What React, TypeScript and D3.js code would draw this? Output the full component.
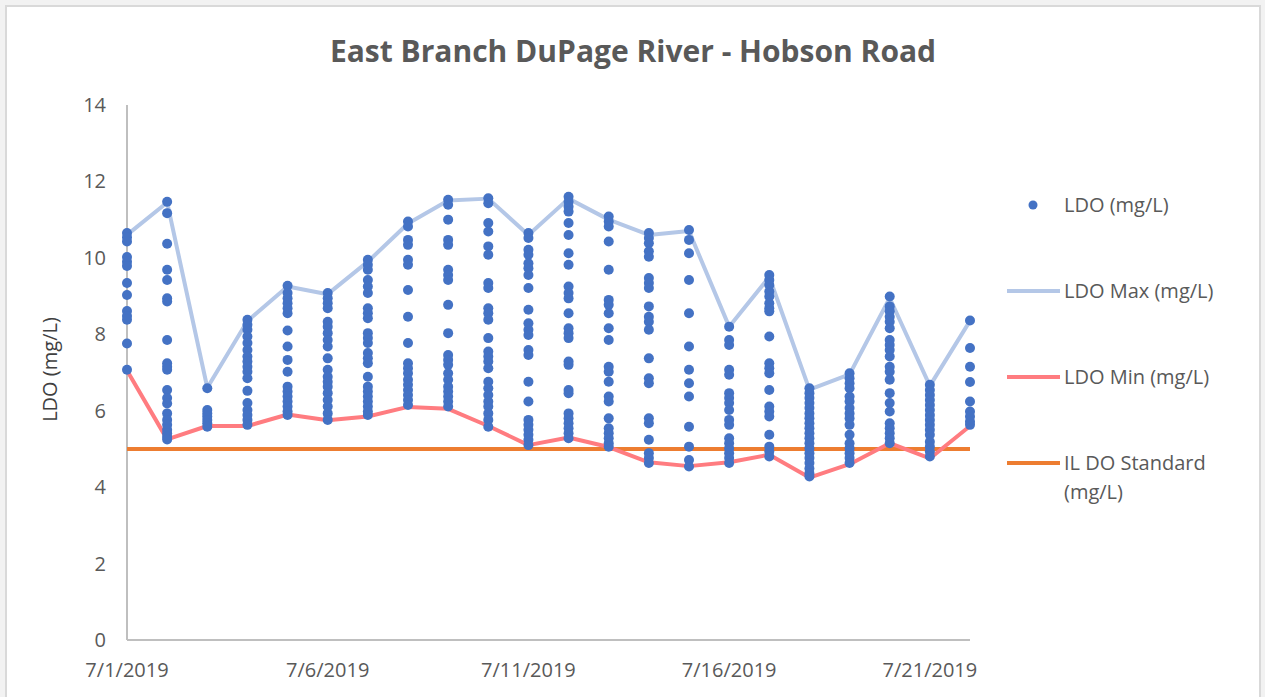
import React from 'react';
import * as d3 from 'd3';

// one reading column per day, 7/1/2019 .. 7/22/2019
const dayLabels = [
  '2019-07-01', '2019-07-02', '2019-07-03', '2019-07-04', '2019-07-05', '2019-07-06',
  '2019-07-07', '2019-07-08', '2019-07-09', '2019-07-10', '2019-07-11', '2019-07-12',
  '2019-07-13', '2019-07-14', '2019-07-15', '2019-07-16', '2019-07-17', '2019-07-18',
  '2019-07-19', '2019-07-20', '2019-07-21', '2019-07-22',
];

const ldoReadings: number[][] = [
  [10.65, 10.54, 10.43, 10.02, 9.9, 9.79, 9.34, 9.03, 8.61, 8.48, 8.38, 7.76, 7.07],
  [11.47, 11.17, 10.37, 9.69, 9.42, 8.94, 8.86, 7.85, 7.24, 7.15, 7.07, 6.54, 6.33, 6.19, 5.93, 5.76, 5.63, 5.5, 5.41, 5.32, 5.25],
  [6.59, 6.02, 5.93, 5.85, 5.76, 5.67, 5.58],
  [8.38, 8.25, 8.12, 7.94, 7.77, 7.59, 7.42, 7.29, 7.15, 7.02, 6.85, 6.52, 6.2, 6.02, 5.89, 5.76, 5.63],
  [9.27, 9.08, 8.94, 8.81, 8.68, 8.55, 8.1, 7.68, 7.33, 7.02, 6.63, 6.5, 6.37, 6.24, 6.11, 5.98, 5.89],
  [9.08, 8.94, 8.81, 8.68, 8.33, 8.2, 8.03, 7.85, 7.68, 7.37, 7.07, 6.89, 6.76, 6.63, 6.46, 6.28, 6.11, 5.93, 5.76],
  [9.95, 9.82, 9.69, 9.42, 9.25, 9.08, 8.68, 8.55, 8.42, 8.03, 7.9, 7.77, 7.51, 7.37, 7.24, 6.89, 6.63, 6.5, 6.37, 6.24, 6.11, 5.98, 5.89],
  [10.95, 10.82, 10.47, 10.34, 9.95, 9.82, 9.16, 8.46, 7.77, 7.24, 7.11, 6.98, 6.81, 6.68, 6.54, 6.41, 6.28, 6.15],
  [11.52, 11.39, 11.0, 10.47, 10.34, 9.69, 9.55, 9.42, 8.77, 8.03, 7.46, 7.33, 7.2, 6.98, 6.81, 6.63, 6.5, 6.37, 6.24, 6.11],
  [11.56, 11.43, 10.91, 10.69, 10.3, 10.08, 9.34, 9.21, 8.68, 8.55, 8.38, 7.9, 7.55, 7.42, 7.29, 7.11, 6.76, 6.59, 6.41, 6.24, 6.11, 5.93, 5.76, 5.58],
  [10.65, 10.52, 10.21, 10.08, 9.86, 9.73, 9.55, 9.21, 8.64, 8.29, 8.12, 7.98, 7.59, 7.46, 6.76, 6.24, 5.76, 5.63, 5.5, 5.37, 5.24, 5.1],
  [11.6, 11.47, 11.34, 11.21, 10.91, 10.6, 10.12, 9.82, 9.25, 9.08, 8.94, 8.55, 8.16, 8.03, 7.9, 7.29, 7.2, 6.54, 6.46, 5.93, 5.8, 5.67, 5.54, 5.41, 5.28],
  [11.08, 10.95, 10.82, 10.43, 9.69, 8.9, 8.77, 8.55, 8.16, 7.85, 7.15, 7.02, 6.76, 6.37, 6.24, 5.8, 5.54, 5.41, 5.28, 5.15, 5.06],
  [10.65, 10.52, 10.38, 10.17, 10.03, 9.47, 9.34, 9.21, 8.73, 8.46, 8.33, 8.12, 7.37, 6.85, 6.72, 5.8, 5.67, 5.24, 4.89, 4.76, 4.63],
  [10.73, 10.47, 10.12, 9.42, 8.55, 7.68, 7.07, 6.72, 6.37, 5.58, 5.06, 4.71, 4.54],
  [8.2, 7.85, 7.72, 7.07, 6.94, 6.46, 6.33, 6.2, 6.02, 5.76, 5.63, 5.28, 5.15, 5.02, 4.89, 4.76, 4.63],
  [9.55, 9.42, 9.29, 9.12, 8.99, 8.81, 8.68, 8.6, 7.94, 7.24, 7.11, 6.98, 6.54, 6.11, 5.98, 5.85, 5.37, 5.06, 4.93, 4.8],
  [6.59, 6.46, 6.33, 6.2, 6.07, 5.93, 5.8, 5.67, 5.54, 5.41, 5.28, 5.15, 5.02, 4.89, 4.76, 4.63, 4.49, 4.36, 4.28],
  [6.98, 6.85, 6.72, 6.59, 6.37, 6.24, 6.07, 5.93, 5.8, 5.63, 5.37, 5.15, 5.02, 4.89, 4.76, 4.63],
  [8.99, 8.73, 8.6, 8.46, 8.33, 8.16, 7.85, 7.72, 7.59, 7.42, 7.15, 7.02, 6.81, 6.46, 6.2, 5.98, 5.67, 5.54, 5.41, 5.28, 5.15],
  [6.68, 6.54, 6.41, 6.28, 6.15, 6.02, 5.89, 5.76, 5.63, 5.5, 5.37, 5.19, 5.06, 4.93, 4.8],
  [8.36, 7.64, 7.15, 6.75, 6.24, 5.98, 5.85, 5.72, 5.63],
];

const ldoMax = [10.6, 11.45, 6.6, 8.35, 9.25, 9.05, 9.9, 10.9, 11.5, 11.55, 10.6, 11.55, 11.0, 10.6, 10.7, 8.2, 9.5, 6.55, 6.95, 8.95, 6.65, 8.35];
const ldoMin = [7.05, 5.25, 5.6, 5.6, 5.9, 5.75, 5.85, 6.1, 6.05, 5.6, 5.1, 5.3, 5.05, 4.65, 4.55, 4.65, 4.85, 4.25, 4.6, 5.15, 4.75, 5.6];
const standard = 5;

const yTicks = [0, 2, 4, 6, 8, 10, 12, 14];
const xTickLabels = ['2019-07-01', '2019-07-06', '2019-07-11', '2019-07-16', '2019-07-21'];

const legendItems = [
  { label: ['LDO (mg/L)'], kind: 'dot', color: '#4472C4' },
  { label: ['LDO Max (mg/L)'], kind: 'line', color: '#B4C7E7' },
  { label: ['LDO Min (mg/L)'], kind: 'line', color: '#FF7C80' },
  { label: ['IL DO Standard', '(mg/L)'], kind: 'line', color: '#ED7D31' },
];

const parseDay = d3.timeParse('%Y-%m-%d');
const fmt = d3.timeFormat('%-m/%-d/%Y');

export default function App() {
  const width = 1265;
  const height = 697;
  const font = '"Open Sans", "Noto Sans", sans-serif';
  const textColor = '#595959';

  const dates = dayLabels.map(d => parseDay(d) as Date);

  const x = d3.scaleTime()
    .domain([dates[0], dates[dates.length - 1]])
    .range([127, 970]);
  const y = d3.scaleLinear().domain([0, 14]).range([640, 105]);

  const dayLine = d3.line<number>()
    .x((_, i) => x(dates[i]))
    .y(d => y(d));

  const legendY = [205, 291, 377, 463];

  return (
    <svg width={width} height={height} style={{ position: 'absolute', left: 0, top: 0, display: 'block', background: '#fff' }}>
      <rect x={0} y={0} width={width} height={height} fill="#f2f2f2" />
      <rect x={6} y={6} width={1254} height={720} fill="#fff" stroke="#d9d9d9" strokeWidth={2} />

      <text x={633} y={62} textAnchor="middle" fontFamily={font} fontSize={30} fontWeight={700} fill={textColor}>
        East Branch DuPage River - Hobson Road
      </text>

      {/* y axis */}
      <line x1={x(dates[0])} x2={x(dates[0])} y1={y(14)} y2={y(0)} stroke="#bfbfbf" strokeWidth={2} />
      {yTicks.map(t => (
        <text key={t} x={106} y={y(t)} dy="0.35em" textAnchor="end" fontFamily={font} fontSize={20} fill={textColor}>{t}</text>
      ))}
      <text transform={`translate(50,${y(7) - 3}) rotate(-90)`} textAnchor="middle" dy="0.35em" fontFamily={font} fontSize={20} fill="#404040">
        LDO (mg/L)
      </text>

      {/* x axis */}
      <line x1={x(dates[0])} x2={x(dates[dates.length - 1])} y1={y(0)} y2={y(0)} stroke="#bfbfbf" strokeWidth={2} />
      {xTickLabels.map(s => {
        const d = parseDay(s) as Date;
        return (
          <text key={s} x={x(d)} y={670} dy="0.35em" textAnchor="middle" fontFamily={font} fontSize={20} fill={textColor}>{fmt(d)}</text>
        );
      })}

      {/* series lines */}
      <line x1={x(dates[0])} x2={x(dates[dates.length - 1])} y1={y(standard)} y2={y(standard)} stroke="#ED7D31" strokeWidth={4} />
      <path d={dayLine(ldoMax) || ''} fill="none" stroke="#B4C7E7" strokeWidth={4} strokeLinejoin="round" />
      <path d={dayLine(ldoMin) || ''} fill="none" stroke="#FF7C80" strokeWidth={4} strokeLinejoin="round" />

      {/* readings */}
      {ldoReadings.map((col, i) => col.map((v, j) => (
        <circle key={`${i}-${j}`} cx={x(dates[i])} cy={y(v)} r={5} fill="#4472C4" />
      )))}

      {/* legend */}
      {legendItems.map((it, i) => (
        <g key={i}>
          {it.kind === 'dot'
            ? <circle cx={1033} cy={legendY[i]} r={4.5} fill={it.color} />
            : <line x1={1007} x2={1060} y1={legendY[i]} y2={legendY[i]} stroke={it.color} strokeWidth={4} />}
          {it.label.map((l, k) => (
            <text key={k} x={1064} y={legendY[i] + k * 29} dy="0.35em" fontFamily={font} fontSize={20} fill={textColor}>{l}</text>
          ))}
        </g>
      ))}
    </svg>
  );
}
